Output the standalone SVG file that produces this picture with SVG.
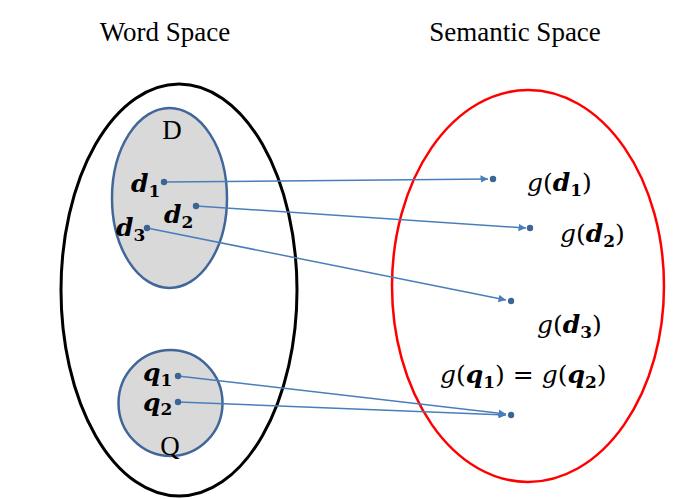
<svg xmlns="http://www.w3.org/2000/svg" width="681" height="499" viewBox="0 0 681 499">
<defs>
<marker id="ah" viewBox="0 0 10 10" refX="10" refY="5" markerWidth="5" markerHeight="5" orient="auto" markerUnits="strokeWidth">
<path d="M0,0 L10,5 L0,10 z" fill="#4a7ebb"/>
</marker>
<style>
text{fill:#000}
.t{font-family:'Liberation Serif',serif;font-size:27px}
.m{font-family:'DejaVu Serif',serif;font-size:25px}
.b{font-weight:bold;font-style:italic}
.s{font-weight:bold;font-size:17px}
.ln{stroke:#4a7ebb;stroke-width:1.5;fill:none}
.dot{fill:#3c6494}
</style>
</defs>
<rect width="681" height="499" fill="#fff"/>
<g id="titles">
<text class="t" x="165" y="41" text-anchor="middle">Word Space</text>
<text class="t" x="515" y="41" text-anchor="middle">Semantic Space</text>
</g>
<g id="word-space"><ellipse cx="179" cy="290" rx="118" ry="206" fill="none" stroke="#000" stroke-width="3"/></g>
<g id="semantic-space"><ellipse cx="528" cy="286" rx="136" ry="196" fill="none" stroke="#ff0000" stroke-width="2.5"/></g>
<g id="D">
<ellipse cx="169.5" cy="198" rx="57.5" ry="90" fill="#d9d9d9" stroke="#41679a" stroke-width="2.5"/>
<text class="t" x="172" y="139" text-anchor="middle" font-size="25">D</text>
</g>
<g id="Q">
<ellipse cx="170.5" cy="403" rx="52" ry="53" fill="#d9d9d9" stroke="#41679a" stroke-width="2.5"/>
<text class="t" x="170" y="455" text-anchor="middle" font-size="25">Q</text>
</g>
<g id="labels">
<text class="m" x="131" y="192"><tspan class="b">d</tspan><tspan class="s" dy="5">1</tspan></text>
<text class="m" x="164" y="223"><tspan class="b">d</tspan><tspan class="s" dy="5">2</tspan></text>
<text class="m" x="116" y="236"><tspan class="b">d</tspan><tspan class="s" dy="5">3</tspan></text>
<text class="m" x="143" y="381" font-size="24"><tspan class="b">q</tspan><tspan class="s" dy="5">1</tspan></text>
<text class="m" x="143" y="411" font-size="24"><tspan class="b">q</tspan><tspan class="s" dy="4">2</tspan></text>
<text class="m" x="527" y="191"><tspan font-style="italic">g</tspan>(<tspan class="b">d</tspan><tspan class="s" dy="5">1</tspan><tspan dy="-5">)</tspan></text>
<text class="m" x="560" y="242"><tspan font-style="italic">g</tspan>(<tspan class="b">d</tspan><tspan class="s" dy="5">2</tspan><tspan dy="-5">)</tspan></text>
<text class="m" x="537" y="333"><tspan font-style="italic">g</tspan>(<tspan class="b">d</tspan><tspan class="s" dy="5">3</tspan><tspan dy="-5">)</tspan></text>
<text class="m" x="440" y="383"><tspan font-style="italic">g</tspan>(<tspan class="b">q</tspan><tspan class="s" dy="5">1</tspan><tspan dy="-5">) = </tspan><tspan font-style="italic">g</tspan>(<tspan class="b">q</tspan><tspan class="s" dy="5">2</tspan><tspan dy="-5">)</tspan></text>
</g>
<g id="connectors">
<line class="ln" x1="164" y1="182" x2="488" y2="179" marker-end="url(#ah)"/>
<line class="ln" x1="196" y1="206" x2="526" y2="228" marker-end="url(#ah)"/>
<line class="ln" x1="147" y1="228" x2="506" y2="300" marker-end="url(#ah)"/>
<line class="ln" x1="178" y1="376" x2="506" y2="414" marker-end="url(#ah)"/>
<line class="ln" x1="178" y1="402" x2="506" y2="415" marker-end="url(#ah)"/>
<circle class="dot" cx="164" cy="182" r="3.2"/>
<circle class="dot" cx="196" cy="206" r="3.2"/>
<circle class="dot" cx="147" cy="228" r="3.2"/>
<circle class="dot" cx="178" cy="376" r="3.2"/>
<circle class="dot" cx="178" cy="402" r="3.2"/>
<circle class="dot" cx="493" cy="179" r="3.2"/>
<circle class="dot" cx="530" cy="228" r="3.2"/>
<circle class="dot" cx="511" cy="301" r="3.2"/>
<circle class="dot" cx="511" cy="415" r="3.2"/>
</g>
</svg>
